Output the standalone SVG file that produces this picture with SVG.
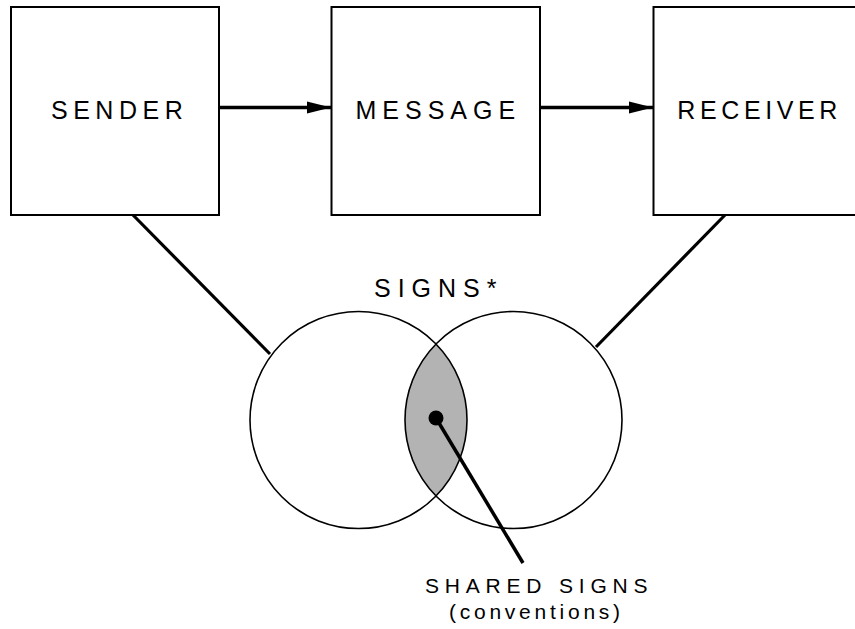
<svg xmlns="http://www.w3.org/2000/svg" width="855" height="629" viewBox="0 0 855 629">
<style>
.box{fill:#fff;stroke:#000;stroke-width:2}
.lbl{font-family:"Liberation Sans",Arial,sans-serif;font-size:25px;fill:#000}
.sm{font-family:"Liberation Sans",Arial,sans-serif;font-size:21px;fill:#000}
.conn{stroke:#000;stroke-width:3.2;fill:none}
.arrow{stroke:#000;stroke-width:3.5;fill:none;marker-end:url(#ah)}
.circ{fill:none;stroke:#000;stroke-width:1.6}
</style>
<defs>
<marker id="ah" markerUnits="userSpaceOnUse" markerWidth="26" markerHeight="14" refX="24" refY="6.5" orient="auto">
<path d="M0,0.5 L24,6.5 L0,12.5 Z" fill="#000"/>
</marker>
</defs>
<rect width="855" height="629" fill="#fff"/>
<g id="connectors">
<line class="arrow" x1="220" y1="107.5" x2="331" y2="107.5"/>
<line class="arrow" x1="541" y1="107.5" x2="653" y2="107.5"/>
<line class="conn" x1="133" y1="215" x2="270" y2="354"/>
<line class="conn" x1="725" y1="215" x2="596" y2="347"/>
</g>
<g id="sender">
<rect class="box" x="11" y="7" width="208" height="208"/>
<text class="lbl" x="51" y="119" style="letter-spacing:5.5px">SENDER</text>
</g>
<g id="message">
<rect class="box" x="331.5" y="7" width="208.5" height="208"/>
<text class="lbl" x="355.5" y="119" style="letter-spacing:6px">MESSAGE</text>
</g>
<g id="receiver">
<rect class="box" x="653.5" y="7" width="220" height="208"/>
<text class="lbl" x="677.3" y="119" style="letter-spacing:4.6px">RECEIVER</text>
</g>
<g id="signs">
<text class="lbl" x="374" y="297" style="letter-spacing:7px">SIGNS*</text>
<path d="M436,344.1 A108.5,108.5 0 0 1 436,495.9 A108.5,108.5 0 0 1 436,344.1 Z" fill="#b3b3b3"/>
<circle class="circ" cx="358.5" cy="420" r="108.5"/>
<circle class="circ" cx="513.5" cy="420" r="108.5"/>
</g>
<g id="shared-signs">
<line class="conn" x1="436" y1="418" x2="523" y2="563" style="stroke-width:3.5"/>
<circle cx="436" cy="418" r="7.5" fill="#000"/>
<text class="sm" x="425" y="593.3" style="letter-spacing:5.8px">SHARED SIGNS</text>
<text class="sm" x="449" y="619" style="letter-spacing:3.75px">(conventions)</text>
</g>
</svg>
